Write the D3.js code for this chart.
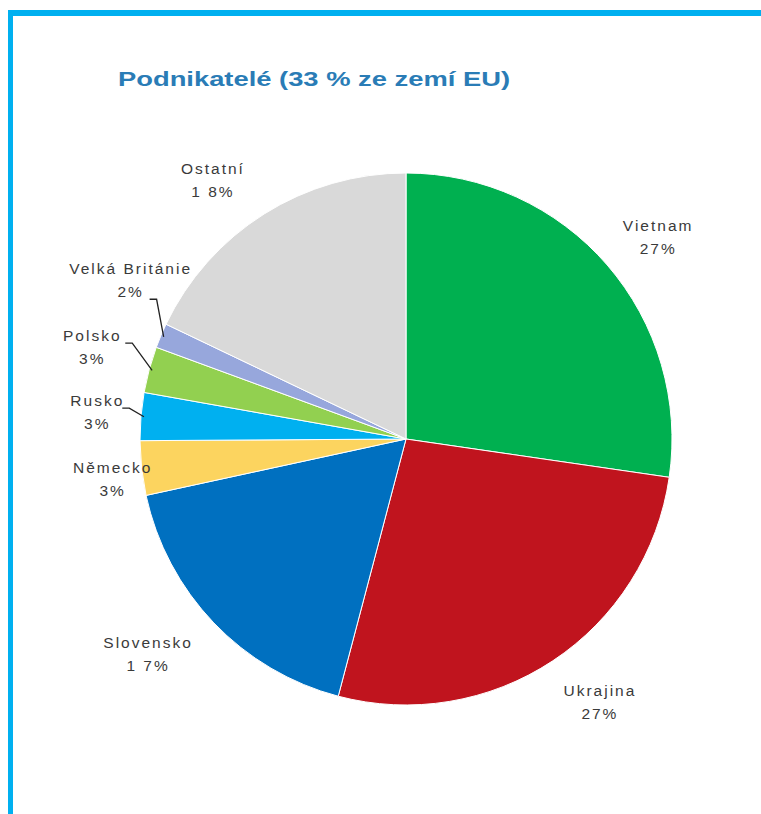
<!DOCTYPE html>
<html><head><meta charset="utf-8">
<script src="https://cdn.jsdelivr.net/npm/d3@7"></script>
<style>body{margin:0;background:#fff;} svg{display:block;}</style>
</head><body>
<svg id="c" width="761" height="814"></svg>
<script>
const title = "Podnikatelé (33 % ze zemí EU)";
const categories = ["Vietnam","Ukrajina","Slovensko","Německo","Rusko","Polsko","Velká Británie","Ostatní"];
const values = [27.3,26.8,17.5,3.3,2.9,2.8,1.5,17.9];
const labels = ["27%","27%","1 7%","3%","3%","3%","2%","1 8%"];
const colors = ["#00b050","#c0141e","#0070c0","#fcd45f","#00b0f0","#92d050","#97a7dc","#d9d9d9"];

// label layout (angle nudge in degrees, radial distance factor)
const labelNudge = [2.2,-2.9,3.9,-1.5,0.1,1.2,7.1,-4.5];
const labelDist  = [1.214,1.229,1.263,1.113,1.165,1.229,1.195,1.214];
const leaders = [false,false,false,false,true,true,true,false];

const svg = d3.select("#c");
const W = 761, H = 814;
const cx = 406, cy = 439, r = 266;

// frame
svg.append("rect").attr("x",8).attr("y",10).attr("width",W).attr("height",6).attr("fill","#00b0f0");
svg.append("rect").attr("x",8).attr("y",10).attr("width",5).attr("height",H).attr("fill","#00b0f0");

svg.append("text").attr("x",118).attr("y",86)
  .attr("font-family","Liberation Sans, Arial, sans-serif").attr("font-weight","bold")
  .attr("font-size",21).attr("fill","#2a7cb6").attr("textLength",392).attr("lengthAdjust","spacingAndGlyphs")
  .text(title);

const data = categories.map((c,i)=>({c, v:values[i], lab:labels[i], col:colors[i], i}));
const pie = d3.pie().value(d=>d.v).sort(null);
const arcs = pie(data);
const arc = d3.arc().innerRadius(0).outerRadius(r);
const g = svg.append("g").attr("transform",`translate(${cx},${cy})`);
g.selectAll("path").data(arcs).join("path")
  .attr("d",arc).attr("fill",d=>d.data.col).attr("stroke","#fff").attr("stroke-width",1);

const font = "Liberation Sans, Arial, sans-serif";
arcs.forEach((a,i)=>{
  const mid = (a.startAngle+a.endAngle)/2;
  const ang = mid + labelNudge[i]*Math.PI/180;
  const d = r*labelDist[i];
  const x = d*Math.sin(ang), y = -d*Math.cos(ang);
  const t = g.append("text").attr("text-anchor","middle").attr("font-family",font)
    .attr("font-size",15.5).attr("fill","#3a3a3a").attr("letter-spacing",2);
  t.append("tspan").attr("x",x).attr("y",y-6).text(a.data.c);
  t.append("tspan").attr("x",x).attr("y",y+17).text(a.data.lab);
  if(leaders[i]){
    const ex = (r-3)*Math.sin(mid), ey = -(r-3)*Math.cos(mid);
    const lx = x + (i===6?26:(i===5?40:32)), ly = y + (i===6?19:-4);
    g.append("path").attr("d",`M${lx-7},${ly}L${lx},${ly}L${ex},${ey}`)
      .attr("fill","none").attr("stroke","#222").attr("stroke-width",1.3);
  }
});
</script>
</body></html>
